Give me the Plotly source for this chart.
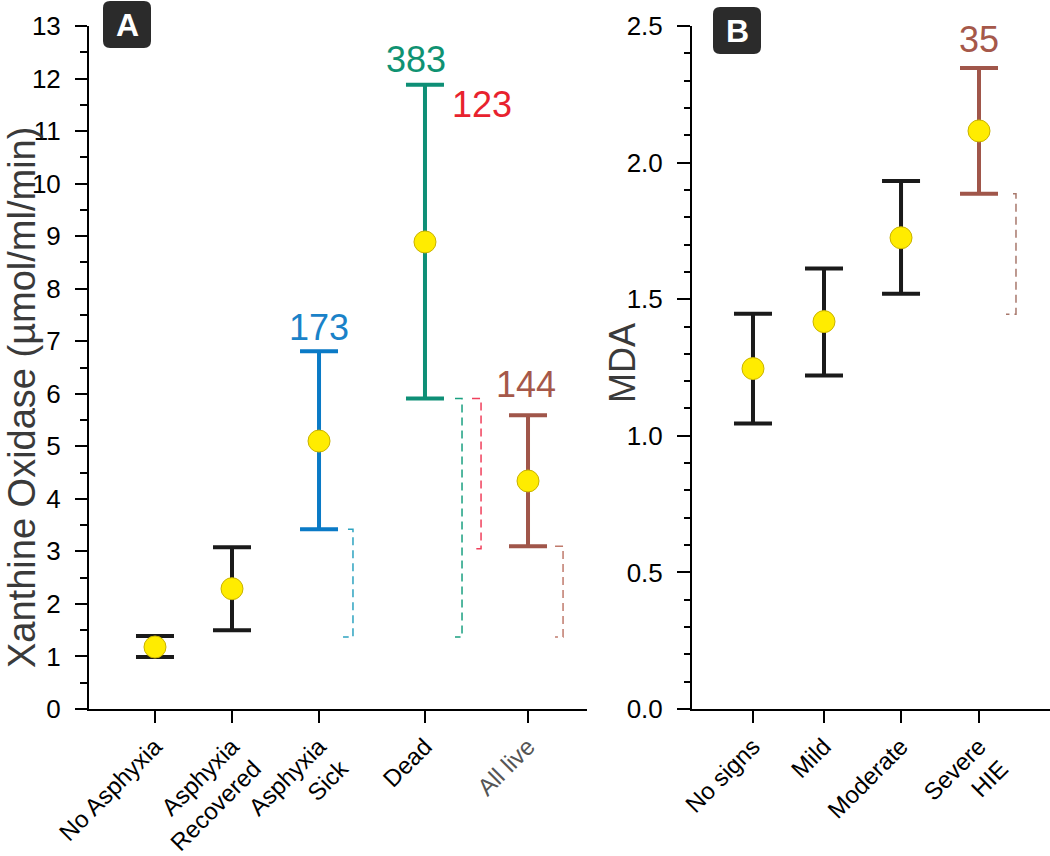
import plotly.graph_objects as go

# ---------------- data ----------------
# Panel A - xanthine oxidase
groups_a = ["No Asphyxia", "Asphyxia<br>Recovered", "Asphyxia<br>Sick", "Dead", "All live"]
mean_a = [1.18, 2.29, 5.10, 8.89, 4.34]
upper_a = [1.39, 3.08, 6.81, 11.88, 5.59]
lower_a = [0.99, 1.50, 3.42, 5.91, 3.10]
colors_a = ["#1a1a1a", "#1a1a1a", "#0a7ac6", "#0e8f76", "#a0564a"]

# Panel B - MDA by HIE grade
groups_b = ["No signs", "Mild", "Moderate", "Severe<br>HIE"]
mean_b = [1.246, 1.418, 1.725, 2.116]
upper_b = [1.447, 1.612, 1.933, 2.346]
lower_b = [1.045, 1.221, 1.520, 1.886]
colors_b = ["#1a1a1a", "#1a1a1a", "#1a1a1a", "#a0564a"]

# numbers written over the bars
labels_a = ["173", "383", "123", "144"]
labels_b = ["35"]

# category positions along the x axes (uneven spacing as in the figure)
xpos_a = [1.0, 2.0, 3.13, 4.506, 5.844]
xpos_b = [1.0, 2.0, 3.085, 4.183]

W, H = 1050, 856

fig = go.Figure()

# Panel A error bars + means
for i in range(len(groups_a)):
    fig.add_scatter(
        x=[xpos_a[i]], y=[mean_a[i]], mode='markers',
        marker=dict(size=22, color='#ffec00', line=dict(color='#c9b200', width=1)),
        error_y=dict(type='data', symmetric=False,
                     array=[upper_a[i] - mean_a[i]],
                     arrayminus=[mean_a[i] - lower_a[i]],
                     color=colors_a[i], thickness=4, width=19),
        xaxis='x', yaxis='y', showlegend=False, hoverinfo='skip'
    )

# Panel B error bars + means
for i in range(len(groups_b)):
    fig.add_scatter(
        x=[xpos_b[i]], y=[mean_b[i]], mode='markers',
        marker=dict(size=22, color='#ffec00', line=dict(color='#c9b200', width=1)),
        error_y=dict(type='data', symmetric=False,
                     array=[upper_b[i] - mean_b[i]],
                     arrayminus=[mean_b[i] - lower_b[i]],
                     color=colors_b[i], thickness=4, width=19),
        xaxis='x2', yaxis='y2', showlegend=False, hoverinfo='skip'
    )


# dashed comparison brackets: (x start, x of the vertical, x end, y from, y to)
def bracket(x0, xv, x1, y0, y1, color, xa, ya):
    fig.add_scatter(
        x=[x0, xv, xv, x1], y=[y0, y0, y1, y1], mode='lines',
        line=dict(color=color, width=1.5, dash='8px,5px'),
        xaxis=xa, yaxis=ya, showlegend=False, hoverinfo='skip'
    )


bracket(3.506, 3.571, 3.442, lower_a[2], upper_a[0] - 0.02, '#2ea3c0', 'x', 'y')
bracket(4.896, 4.987, 4.896, lower_a[3], upper_a[0] - 0.02, '#1aa080', 'x', 'y')
bracket(5.117, 5.234, 5.117, lower_a[3], upper_a[1] - 0.03, '#f0405c', 'x', 'y')
bracket(6.195, 6.299, 6.195, lower_a[4], upper_a[0] - 0.02, '#c07a6c', 'x', 'y')
bracket(4.662, 4.704, 4.563, lower_b[3], upper_b[0] - 0.002, '#a8786c', 'x2', 'y2')

# n labels
fig.add_annotation(x=xpos_a[2], y=7.27, text=labels_a[0], xref='x', yref='y', showarrow=False,
                   font=dict(size=36, color='#1a82c8'))
fig.add_annotation(x=4.385, y=12.36, text=labels_a[1], xref='x', yref='y', showarrow=False,
                   font=dict(size=36, color='#0f9272'))
fig.add_annotation(x=5.247, y=11.5, text=labels_a[2], xref='x', yref='y', showarrow=False,
                   font=dict(size=36, color='#e8222e'))
fig.add_annotation(x=5.82, y=6.18, text=labels_a[3], xref='x', yref='y', showarrow=False,
                   font=dict(size=36, color='#a5584a'))
fig.add_annotation(x=xpos_b[3], y=2.452, text=labels_b[0], xref='x2', yref='y2', showarrow=False,
                   font=dict(size=36, color='#a5584a'))


# panel letters in dark rounded boxes
def rounded_box(x0, y0, x1, y1, r):
    def px(x):
        return x / W

    def py(y):
        return 1 - y / H
    p = (f"M {px(x0 + r)},{py(y0)} L {px(x1 - r)},{py(y0)} Q {px(x1)},{py(y0)} {px(x1)},{py(y0 + r)} "
         f"L {px(x1)},{py(y1 - r)} Q {px(x1)},{py(y1)} {px(x1 - r)},{py(y1)} "
         f"L {px(x0 + r)},{py(y1)} Q {px(x0)},{py(y1)} {px(x0)},{py(y1 - r)} "
         f"L {px(x0)},{py(y0 + r)} Q {px(x0)},{py(y0)} {px(x0 + r)},{py(y0)} Z")
    fig.add_shape(type='path', path=p, xref='paper', yref='paper',
                  fillcolor='#2b2b2b', line=dict(width=0), layer='below')


rounded_box(103, 1, 151, 48, 7)
rounded_box(713, 7, 761, 54, 7)
fig.add_annotation(x=127 / W, y=1 - 25 / H, text='<b>A</b>', xref='paper', yref='paper',
                   xanchor='center', yanchor='middle',
                   showarrow=False, font=dict(size=32, color='white'))
fig.add_annotation(x=737 / W, y=1 - 31 / H, text='<b>B</b>', xref='paper', yref='paper',
                   xanchor='center', yanchor='middle',
                   showarrow=False, font=dict(size=32, color='white'))

# axis titles
fig.add_annotation(x=22 / W, y=1 - 398 / H, text='Xanthine Oxidase (µmol/ml/min)', textangle=-90,
                   xref='paper', yref='paper', xanchor='center', yanchor='middle', showarrow=False,
                   font=dict(size=38, color='#3a3a3a'))
fig.add_annotation(x=622 / W, y=1 - 363 / H, text='MDA', textangle=-90,
                   xref='paper', yref='paper', xanchor='center', yanchor='middle', showarrow=False,
                   font=dict(size=36, color='#3a3a3a'))

tickfont_y = dict(size=26, color='black')
tickfont_x = dict(size=24, color='black')
ticktext_a = groups_a[:4] + ["<span style='color:#555555'>" + groups_a[4] + "</span>"]

axis_common = dict(showline=True, linecolor='black', linewidth=2, showgrid=False, zeroline=False,
                   automargin=False, ticks='outside', tickwidth=2, tickcolor='black')

fig.update_layout(
    width=W, height=H,
    margin=dict(l=0, r=0, t=0, b=0),
    plot_bgcolor='white', paper_bgcolor='white',
    font=dict(family='Arial, Liberation Sans, sans-serif'),
    xaxis=dict(domain=[89 / W, 587 / W], range=[0.143, 6.61], anchor='y',
               tickmode='array', tickvals=xpos_a, ticktext=ticktext_a, tickangle=-45,
               tickfont=tickfont_x, ticklen=12, **axis_common),
    yaxis=dict(domain=[147 / H, 830 / H], range=[0, 13], anchor='x',
               tickmode='linear', tick0=0, dtick=1, tickfont=tickfont_y, ticklen=12,
               ticklabelstandoff=9,
               minor=dict(dtick=0.5, ticks='outside', ticklen=7, tickwidth=2, tickcolor='black'),
               **axis_common),
    xaxis2=dict(domain=[692 / W, 1050 / W], range=[0.141, 5.183], anchor='y2',
                tickmode='array', tickvals=xpos_b, ticktext=groups_b, tickangle=-45,
                tickfont=tickfont_x, ticklen=12, **axis_common),
    yaxis2=dict(domain=[147 / H, 830 / H], range=[0, 2.5], anchor='x2',
                tickmode='linear', tick0=0, dtick=0.5, tickformat='.1f', tickfont=tickfont_y,
                ticklen=13, ticklabelstandoff=9,
                minor=dict(dtick=0.1, ticks='outside', ticklen=6, tickwidth=2, tickcolor='black'),
                **axis_common),
)

# drop the default page margin so the figure sits at the window's corner
fig.write_html("out.html", config={'displayModeBar': False},
               post_script="document.body.style.margin='0';")
